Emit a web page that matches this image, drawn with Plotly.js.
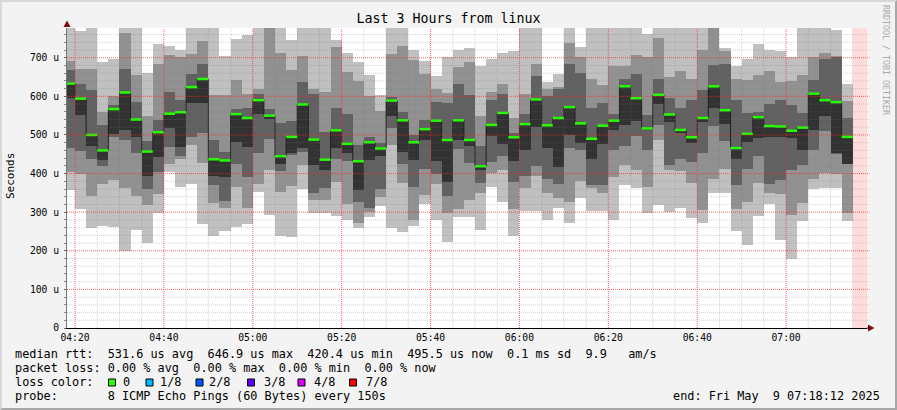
<!DOCTYPE html>
<html><head><meta charset="utf-8">
<script src="https://cdn.plot.ly/plotly-3.0.1.min.js"></script>
<style>
html,body{margin:0;padding:0;background:#f3f3f3;}
#chart{width:897px;height:410px;}
#frame{position:absolute;left:0;top:0;width:897px;height:410px;box-sizing:border-box;border-top:2px solid #d8d8d8;border-left:2px solid #d8d8d8;border-right:2px solid #a8a8a8;border-bottom:2px solid #a8a8a8;pointer-events:none;}
</style></head><body>
<div id="chart"></div><div id="frame"></div>
<script>
const day = '2025-05-09';
// end time of each 150 s step
const times = ["04:20:00","04:22:30","04:25:00","04:27:30","04:30:00","04:32:30","04:35:00","04:37:30","04:40:00","04:42:30","04:45:00","04:47:30","04:50:00","04:52:30","04:55:00","04:57:30",
"05:00:00","05:02:30","05:05:00","05:07:30","05:10:00","05:12:30","05:15:00","05:17:30","05:20:00","05:22:30","05:25:00","05:27:30","05:30:00","05:32:30","05:35:00","05:37:30","05:40:00","05:42:30","05:45:00","05:47:30","05:50:00","05:52:30","05:55:00","05:57:30",
"06:00:00","06:02:30","06:05:00","06:07:30","06:10:00","06:12:30","06:15:00","06:17:30","06:20:00","06:22:30","06:25:00","06:27:30","06:30:00","06:32:30","06:35:00","06:37:30","06:40:00","06:42:30","06:45:00","06:47:30","06:50:00","06:52:30","06:55:00","06:57:30",
"07:00:00","07:02:30","07:05:00","07:07:30","07:10:00","07:12:30","07:15:00"];
// microseconds, 8 sorted pings per step (ping5 = median)
const median = [633,594,500,460,567,610,540,457,507,555,559,624,645,437,434,554,544,590,550,445,495,579,488,436,512,477,432,481,465,589,538,481,515,537,487,538,487,419,526,557,494,528,592,525,544,572,530,490,524,537,626,595,517,604,553,513,494,544,626,564,466,503,546,523,522,511,519,607,590,585,495];
const ping8 = [795,769,805,688,698,810,792,661,735,730,721,800,815,798,705,748,759,802,820,796,746,806,793,790,746,713,690,655,603,797,803,721,692,652,701,721,724,678,696,713,718,799,806,638,658,812,728,795,790,801,794,808,761,815,796,790,792,805,820,724,678,698,735,721,718,701,799,805,792,772,632];
const ping7 = [692,670,672,560,601,763,655,549,683,707,701,709,744,603,603,642,606,620,785,713,668,704,620,612,728,664,640,601,563,709,730,694,658,618,609,677,690,549,612,633,543,607,685,620,625,739,702,644,629,678,678,707,701,750,651,666,644,720,790,718,646,642,655,666,638,640,655,701,713,704,589];
const ping6 = [668,632,616,526,577,672,586,485,538,612,590,659,683,487,457,566,569,607,566,530,537,638,606,508,571,554,474,495,478,599,560,500,538,586,582,633,603,471,590,607,504,554,652,601,620,685,661,569,582,554,646,658,551,646,595,569,590,616,681,683,590,556,560,580,590,577,556,642,696,701,543];
const ping4 = [595,551,471,435,502,513,495,393,442,519,469,582,582,394,392,482,469,554,541,425,452,465,422,409,465,454,357,435,445,549,456,435,488,433,379,487,471,409,497,476,433,461,520,465,416,500,478,439,476,514,526,537,512,580,534,504,478,534,571,528,439,482,491,495,495,491,462,513,549,454,426];
const ping3 = [465,459,439,420,495,487,454,361,405,469,445,495,504,370,329,425,392,452,489,407,448,456,349,362,439,433,327,312,359,517,425,366,411,400,342,463,428,376,431,445,379,393,419,387,374,465,461,370,370,461,471,497,461,526,422,439,431,452,523,485,370,413,445,374,383,409,422,461,511,450,425];
const ping2 = [405,399,343,373,383,362,342,318,347,426,437,474,428,324,310,366,312,373,409,353,368,422,331,331,379,321,271,301,340,474,375,281,344,373,299,307,331,350,402,409,307,362,393,350,338,327,381,362,349,392,422,409,366,487,409,407,376,305,387,413,307,327,376,349,347,293,323,385,402,400,299];
const ping1 = [357,308,258,264,262,200,254,221,297,405,364,373,269,238,252,262,269,353,293,238,235,359,299,299,290,280,258,288,316,258,249,264,321,281,223,288,288,254,364,327,238,304,304,280,310,271,338,304,304,281,370,363,297,318,301,312,284,273,350,350,252,215,290,321,228,180,278,359,362,362,278];
const xTickLabels = ["04:20","04:40","05:00","05:20","05:40","06:00","06:20","06:40","07:00"];
const yTickValues = [0,100,200,300,400,500,600,700];
const yTickLabels = ["0","100 u","200 u","300 u","400 u","500 u","600 u","700 u"];
const lossLabels = ["0","1/8","2/8","3/8","4/8","7/8"];
const rangeStart = "04:18:12", rangeEnd = "07:18:12";

// ---------- styling / helpers ----------
const STEP = 150000;
const toMs = t => Date.parse(day + 'T' + t + 'Z');
const fmt = ms => new Date(ms).toISOString().replace('T',' ').slice(0,19);
const ends = times.map(t => fmt(toMs(t)));
const starts = times.map(t => fmt(toMs(t) - STEP));
const lossColors = ["#26ff00","#00b8ff","#0059ff","#5e00ff","#dd00ff","#ff0000"];
const mono = "DejaVu Sans Mono";

function band(lo, hi, color){
  return {type:'bar', x:ends, base:lo, y:hi.map((v,i)=>v-lo[i]), width:STEP, offset:-STEP,
    marker:{color:color, line:{width:0}}, hoverinfo:'skip', showlegend:false};
}
const traces = [
  band(ping1, ping8, '#c0c0c0'),
  band(ping2, ping7, '#919191'),
  band(ping3, ping6, '#616161'),
  band(ping4, median, '#323232')
];
// median: thin dark step line + loss-coloured horizontal segments
const sx=[], sy=[], gx=[], gy=[];
median.forEach((m,i)=>{ sx.push(starts[i], ends[i]); sy.push(m,m); gx.push(starts[i], ends[i], null); gy.push(m,m,null); });
traces.push({type:'scatter', mode:'lines', x:sx, y:sy, line:{color:'#202020', width:1}, hoverinfo:'skip', showlegend:false});
traces.push({type:'scatter', mode:'lines', x:gx, y:gy, line:{color:lossColors[0], width:2.5}, connectgaps:false, hoverinfo:'skip', showlegend:false});

const L=67, T=28, W=800, H=300;
const px = x => (x - L)/W, py = y => (T + H - y)/H;

const shapes = [];
// unknown-data region after last step
shapes.push({type:'rect', xref:'x', yref:'paper', x0:ends[ends.length-1], x1:day+' '+rangeEnd, y0:0, y1:1, fillcolor:'#ffdcdc', line:{width:0}, layer:'below'});
const minorC='rgba(120,120,120,0.32)', majorC='rgba(255,40,40,0.72)', dash='1px,1px';
for(let v=20; v<780; v+=20){
  const major = v%100===0;
  shapes.push({type:'line', xref:'paper', yref:'y', x0:0, x1:1.003, y0:v, y1:v, line:{color:major?majorC:minorC, width:1, dash:dash}, layer:'above'});
}
for(let m=toMs('04:20:00'); m<=toMs('07:15:00'); m+=300000){
  const major = ((m - toMs('04:20:00')) % 1200000)===0;
  shapes.push({type:'line', xref:'x', yref:'paper', x0:fmt(m), x1:fmt(m), y0:0, y1:1, line:{color:major?majorC:minorC, width:1, dash:dash}, layer:'above'});
}
// axis arrows
shapes.push({type:'path', xref:'paper', yref:'paper', path:`M ${px(63.5)} ${py(27)} L ${px(70.5)} ${py(27)} L ${px(67)} ${py(20.5)} Z`, fillcolor:'#7a0f0f', line:{width:0}});
shapes.push({type:'path', xref:'paper', yref:'paper', path:`M ${px(868)} ${py(324.5)} L ${px(868)} ${py(331.5)} L ${px(874.5)} ${py(328)} Z`, fillcolor:'#7a0f0f', line:{width:0}});
shapes.push({type:'line', xref:'paper', yref:'paper', x0:1, x1:px(869), y0:0, y1:0, line:{color:'#000', width:1}});
// loss colour boxes
const boxX = [108.5,146,196,247.5,298,349.5];
const labX = [122,158.5,208,262.5,312.5,365];
boxX.forEach((bx,i)=>{
  shapes.push({type:'rect', xref:'paper', yref:'paper', x0:px(bx), x1:px(bx+7), y0:py(386), y1:py(379), fillcolor:lossColors[i], line:{color:'#000', width:1}});
});

const nb = s => s.replace(/ /g,'\u00a0');
const txtFont = {family:mono, size:11.85, color:'#000'};
function ann(text, x, y, opts){ return Object.assign({text:nb(text), xref:'paper', yref:'paper', x:px(x), y:py(y), xanchor:'left', yanchor:'middle', showarrow:false, font:txtFont, borderpad:0}, opts||{}); }
const annotations = [
  ann('median rtt:  531.6 us avg  646.9 us max  420.4 us min  495.5 us now  0.1 ms sd  9.9   am/s', 14, 354),
  ann('packet loss: 0.00 % avg  0.00 % max  0.00 % min  0.00 % now', 14, 368),
  ann('loss color:', 14, 382),
  ann('probe:       8 ICMP Echo Pings (60 Bytes) every 150s', 14, 396),
  ann('end: Fri May  9 07:18:12 2025', 881, 396, {xanchor:'right'}),
  ann('Seconds', 10, 176, {xanchor:'center', textangle:-90, font:{family:mono, size:11, color:'#000'}}),
  ann('RRDTOOL / TOBI OETIKER', 886, 60, {xanchor:'center', textangle:90, font:{family:mono, size:8.3, color:'#a8a8a8'}})
];
lossLabels.forEach((l,i)=>annotations.push(ann(l, labX[i], 382)));

const layout = {
  width:897, height:410,
  margin:{l:L, r:897-L-W, t:T, b:410-T-H},
  paper_bgcolor:'#f3f3f3', plot_bgcolor:'#ffffff',
  barmode:'overlay', bargap:0, showlegend:false,
  title:{text:'Last 3 Hours from linux', font:{family:mono, size:13.3, color:'#000'}, x:0.5, xref:'container', xanchor:'center', y:1-18.5/410, yref:'container', yanchor:'middle'},
  xaxis:{type:'date', range:[day+' '+rangeStart, day+' '+rangeEnd], showgrid:false, zeroline:false,
    tickvals:xTickLabels.map(t=>day+' '+t+':00'), ticktext:xTickLabels, ticks:'', tickfont:{family:mono, size:9.7, color:'#000'},
    showline:true, linecolor:'#000', linewidth:1, fixedrange:true},
  yaxis:{range:[0,777], showgrid:false, zeroline:false, tickvals:yTickValues, ticktext:yTickLabels,
    ticks:'outside', ticklen:2, tickcolor:'#666', ticklabelstandoff:3, tickfont:{family:mono, size:9.7, color:'#000'},
    minor:{dtick:20, ticks:'outside', ticklen:2, tickcolor:'#888'},
    showline:true, linecolor:'#777', linewidth:1, fixedrange:true},
  shapes:shapes, annotations:annotations
};
Plotly.newPlot('chart', traces, layout, {staticPlot:true, displayModeBar:false});
</script>
</body></html>
